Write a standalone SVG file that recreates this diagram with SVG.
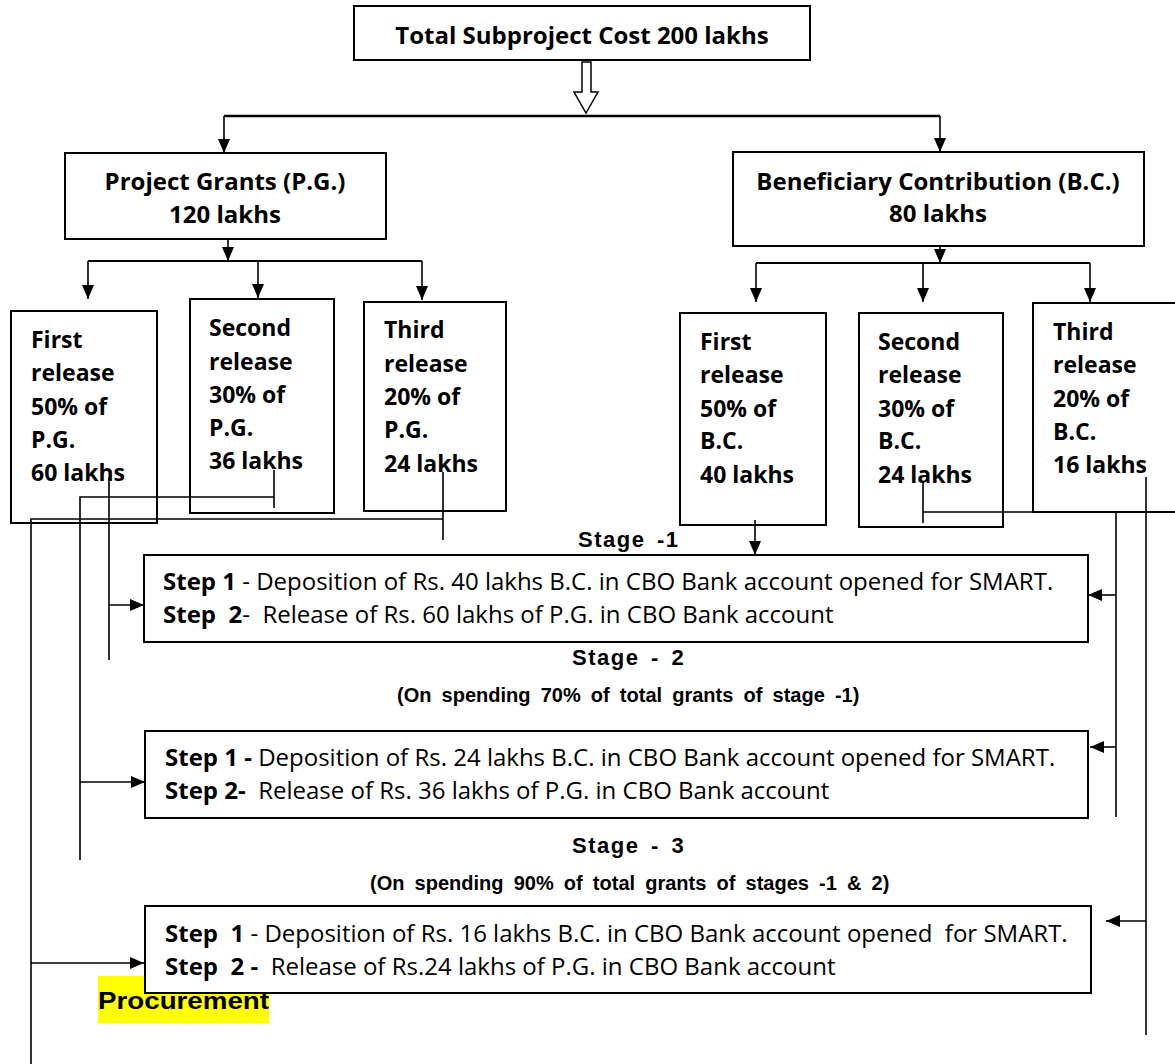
<svg xmlns="http://www.w3.org/2000/svg" width="1175" height="1064" viewBox="0 0 1175 1064">
<style>
.box{fill:#fff;stroke:#000;stroke-width:2}
.c{fill:none;stroke:#000;stroke-width:1.6}
.t{font-family:"Open Sans",Lato,"Liberation Sans",sans-serif;font-size:23px;fill:#000}
.h{font-size:24px}
.p{font-size:24px}
.b{font-weight:bold}
.s{font-family:"Liberation Sans",Arial,sans-serif;font-weight:bold;fill:#000}
.st{font-size:22px;letter-spacing:1.5px;word-spacing:4px}
.sub{font-size:20px;word-spacing:4.6px}
</style>
<defs>
<marker id="ah" markerUnits="userSpaceOnUse" markerWidth="14" markerHeight="12" refX="14" refY="6" orient="auto">
<path d="M0,0 L14,6 L0,12 z" fill="#000"/>
</marker>
</defs>
<rect width="1175" height="1064" fill="#fff"/>

<g id="connectors">
<polygon points="582,62 591,62 591,92 598,92 586,113 574,92 582,92" fill="#fff" stroke="#000" stroke-width="1.5"/>
<path class="c" d="M224,116 H940" style="stroke-width:2.5"/>
<path class="c" d="M224,116 V153" marker-end="url(#ah)"/>
<path class="c" d="M940,116 V152" marker-end="url(#ah)"/>
<path class="c" d="M228,223 V261" marker-end="url(#ah)"/>
<path class="c" d="M88,261 H422" style="stroke-width:2"/>
<path class="c" d="M88,261 V299" marker-end="url(#ah)"/>
<path class="c" d="M258,261 V298" marker-end="url(#ah)"/>
<path class="c" d="M422,261 V300" marker-end="url(#ah)"/>
<path class="c" d="M940,227 V263" marker-end="url(#ah)"/>
<path class="c" d="M756,263 H1090" style="stroke-width:2"/>
<path class="c" d="M756,263 V302" marker-end="url(#ah)"/>
<path class="c" d="M923,263 V302" marker-end="url(#ah)"/>
<path class="c" d="M1090,263 V302" marker-end="url(#ah)"/>
</g>

<g id="total">
<rect class="box" x="354" y="6" width="456" height="54"/>
<text class="t h b" x="582" y="44" text-anchor="middle">Total Subproject Cost 200 lakhs</text>
</g>

<g id="pg">
<rect class="box" x="65" y="153" width="321" height="86"/>
<text class="t h b" x="225" y="190" text-anchor="middle">Project Grants (P.G.)</text>
<text class="t h b" x="225" y="223" text-anchor="middle">120 lakhs</text>
</g>

<g id="bc">
<rect class="box" x="733" y="152" width="411" height="94"/>
<text class="t h b" x="938" y="190" text-anchor="middle">Beneficiary Contribution (B.C.)</text>
<text class="t h b" x="938" y="222" text-anchor="middle">80 lakhs</text>
</g>

<g id="pg1">
<rect class="box" x="11" y="311" width="146" height="212"/>
<text class="t b" x="31" y="348">First</text>
<text class="t b" x="31" y="381">release</text>
<text class="t b" x="31" y="415">50% of</text>
<text class="t b" x="31" y="448">P.G.</text>
<text class="t b" x="31" y="481">60 lakhs</text>
</g>
<g id="pg2">
<rect class="box" x="190" y="299" width="144" height="214"/>
<text class="t b" x="209" y="336">Second</text>
<text class="t b" x="209" y="370">release</text>
<text class="t b" x="209" y="403">30% of</text>
<text class="t b" x="209" y="436">P.G.</text>
<text class="t b" x="209" y="469">36 lakhs</text>
</g>
<g id="pg3">
<rect class="box" x="364" y="302" width="142" height="209"/>
<text class="t b" x="384" y="338">Third</text>
<text class="t b" x="384" y="372">release</text>
<text class="t b" x="384" y="405">20% of</text>
<text class="t b" x="384" y="438">P.G.</text>
<text class="t b" x="384" y="472">24 lakhs</text>
</g>
<g id="bc1">
<rect class="box" x="680" y="313" width="146" height="212"/>
<text class="t b" x="700" y="350">First</text>
<text class="t b" x="700" y="383">release</text>
<text class="t b" x="700" y="417">50% of</text>
<text class="t b" x="700" y="449">B.C.</text>
<text class="t b" x="700" y="483">40 lakhs</text>
</g>
<g id="bc2">
<rect class="box" x="859" y="313" width="144" height="214"/>
<text class="t b" x="878" y="350">Second</text>
<text class="t b" x="878" y="383">release</text>
<text class="t b" x="878" y="417">30% of</text>
<text class="t b" x="878" y="449">B.C.</text>
<text class="t b" x="878" y="483">24 lakhs</text>
</g>
<g id="bc3">
<rect class="box" x="1033" y="303" width="200" height="209"/>
<text class="t b" x="1053" y="340">Third</text>
<text class="t b" x="1053" y="373">release</text>
<text class="t b" x="1053" y="407">20% of</text>
<text class="t b" x="1053" y="440">B.C.</text>
<text class="t b" x="1053" y="473">16 lakhs</text>
</g>

<g id="labels">
<text class="s st" x="578" y="547">Stage -1</text>
<text class="s st" x="572" y="665">Stage - 2</text>
<text class="s sub" x="397" y="702">(On spending 70% of total grants of stage -1)</text>
<text class="s st" x="572" y="853">Stage - 3</text>
<text class="s sub" x="370" y="890">(On spending 90% of total grants of stages -1 &amp; 2)</text>
</g>

<rect x="98" y="976" width="171" height="47" fill="#ffff00"/>

<g id="stage1">
<rect class="box" x="144" y="555" width="944" height="87"/>
<text class="t p" x="163" y="590" xml:space="preserve"><tspan class="b">Step 1</tspan> - Deposition of Rs. 40 lakhs B.C. in CBO Bank account opened for SMART.</text>
<text class="t p" x="163" y="623" xml:space="preserve"><tspan class="b">Step  2</tspan>-  Release of Rs. 60 lakhs of P.G. in CBO Bank account</text>
</g>
<g id="stage2">
<rect class="box" x="145" y="731" width="943" height="87"/>
<text class="t p" x="165" y="766" xml:space="preserve"><tspan class="b">Step 1 -</tspan> Deposition of Rs. 24 lakhs B.C. in CBO Bank account opened for SMART.</text>
<text class="t p" x="165" y="799" xml:space="preserve"><tspan class="b">Step 2-</tspan>  Release of Rs. 36 lakhs of P.G. in CBO Bank account</text>
</g>
<g id="stage3">
<rect class="box" x="145" y="906" width="946" height="87"/>
<text class="t p" x="165" y="942" xml:space="preserve"><tspan class="b">Step  1</tspan> - Deposition of Rs. 16 lakhs B.C. in CBO Bank account opened  for SMART.</text>
<text class="t p" x="165" y="975" xml:space="preserve"><tspan class="b">Step  2 -</tspan>  Release of Rs.24 lakhs of P.G. in CBO Bank account</text>
</g>

<text class="s" x="98" y="1009" font-size="24" textLength="171" lengthAdjust="spacingAndGlyphs">Procurement</text>

<g id="links">
<path class="c" d="M109,477 V660"/>
<path class="c" d="M109,605 H144" marker-end="url(#ah)"/>
<path class="c" d="M274,470 V508 M274,497 H80 V860"/>
<path class="c" d="M80,782 H145" marker-end="url(#ah)"/>
<path class="c" d="M443,472 V540 M443,519 H31 V1064"/>
<path class="c" d="M31,963 H144" marker-end="url(#ah)"/>
<path class="c" d="M755,520 V555" marker-end="url(#ah)"/>
<path class="c" d="M923,482 V523 M923,512 H1116 V817"/>
<path class="c" d="M1116,595 H1088" marker-end="url(#ah)"/>
<path class="c" d="M1116,747 H1090" marker-end="url(#ah)"/>
<path class="c" d="M1146,477 V1035"/>
<path class="c" d="M1146,921 H1106" marker-end="url(#ah)"/>
</g>
</svg>
